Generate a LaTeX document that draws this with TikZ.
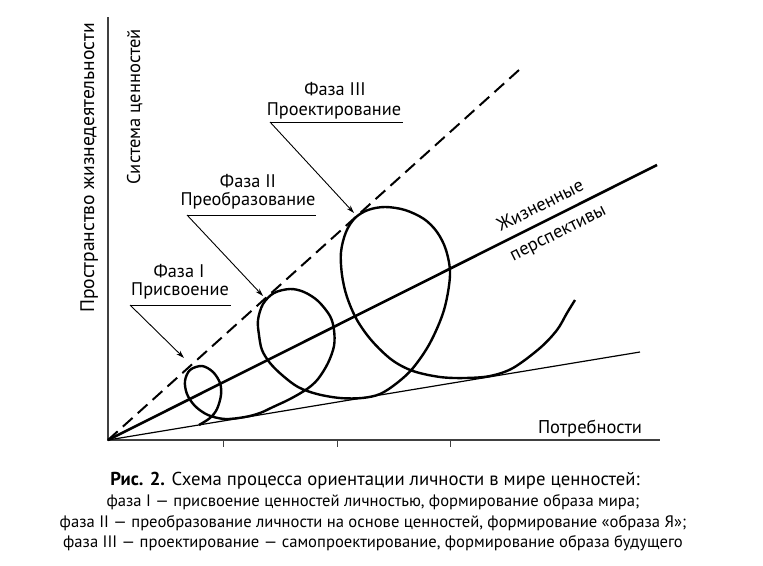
\documentclass[tikz,border=0pt]{standalone}
\usepackage{fontspec}
\setmainfont{PT Sans}
\usetikzlibrary{arrows.meta}

\begin{document}
\begin{tikzpicture}[x=1pt, y=-1pt,
    axis/.style={line width=1.3pt, black!75},
    tick/.style={line width=1pt, black!75},
    pointer/.style={line width=0.9pt, -{Stealth[length=8pt, width=5pt]}},
    underline/.style={line width=0.9pt},
    lbl/.style={font=\fontsize{18.3}{20}\selectfont, inner sep=0pt},
    axlbl/.style={font=\fontsize{18.5}{20}\selectfont, inner sep=0pt},
    capline/.style={font=\fontsize{16.6}{18}\selectfont, inner sep=0pt, anchor=base},
]
    \useasboundingbox (0,0) rectangle (763,565);

    % Axes
    \coordinate (O) at (108,440);
    \coordinate (ytop) at (108,17);
    \coordinate (xend) at (660,440);
    \draw[axis] (ytop) -- (O) -- (xend);
    \foreach \tx in {223,337,450}
      \draw[tick] (\tx,440) -- (\tx,447);

    % Axis labels
    \node[axlbl, font=\fontsize{19.6}{20}\selectfont, rotate=90, anchor=base] (space) at (94,168) {Пространство жизнедеятельности};
    \node[axlbl, rotate=90, anchor=base] (values) at (140,107) {Система ценностей};
    \node[axlbl, anchor=base] (needs) at (590,433) {Потребности};

    % Upper bound (dashed), life line (thick), lower bound (thin)
    \coordinate (dashend) at (519,70);
    \coordinate (lifeend) at (657,165);
    \coordinate (lowend) at (640,352);
    \draw[line width=2pt, dash pattern=on 13pt off 7pt] (O) -- (dashend);
    \draw[line width=2.6pt] (O) -- (lifeend);
    \draw[line width=1.2pt] (O) -- (lowend);

    \node[axlbl, rotate=26.6] (lifeA) at (540,205) {Жизненные};
    \node[axlbl, rotate=26.6] (lifeB) at (559,235) {перспективы};

    % Spiral of the three phases
    \draw[line width=2.4pt, line join=round]
      plot[smooth, tension=0.55] coordinates{
        (199,425) (210,418) (217,409) (221,395) (220,383) (213,372)
        (202,366) (190,370) (185,381) (187,394) (195,406) (208,415)
        (225,419) (245,417) (260,413) (273,407) (290,399) (307,389)
        (318,379) (328,363) (334,346) (334,330) (330,316) (318,301)
        (304,292) (290,289) (274,293) (263,304) (258,320) (259,335)
        (262,350) (270,363) (282,375) (298,387) (317,394) (340,398)
        (362,398) (380,394) (397,383) (413,368) (430,343) (444,310)
        (450,275) (446,250) (437,232) (424,219) (405,210) (385,207)
        (368,210) (355,218) (346,232) (341,252) (342,275) (347,297)
        (357,320) (372,341) (392,360) (413,371) (440,377) (465,378)
        (490,376) (513,368) (540,348) (557,330) (567,313) (575,300)
      };

    % Phase labels with pointers
    \node[lbl, anchor=base] (ph3a) at (335,95) {Фаза III};
    \node[lbl, anchor=base] (ph3b) at (334,115) {Проектирование};
    \coordinate (u3l) at (270,122);
    \coordinate (u3r) at (403,122);
    \coordinate (t3) at (354,213);
    \draw[underline] (u3l) -- (u3r);
    \draw[pointer] (u3l) -- (t3);

    \node[lbl, anchor=base] (ph2a) at (248,187) {Фаза II};
    \node[lbl, anchor=base] (ph2b) at (248,205) {Преобразование};
    \coordinate (u2l) at (187,215);
    \coordinate (u2r) at (316,215);
    \coordinate (t2) at (263,296);
    \draw[underline] (u2l) -- (u2r);
    \draw[pointer] (u2l) -- (t2);

    \node[lbl, anchor=base] (ph1a) at (179,277) {Фаза I};
    \node[lbl, anchor=base] (ph1b) at (180,295) {Присвоение};
    \coordinate (u1l) at (130,305);
    \coordinate (u1r) at (231,305);
    \coordinate (t1) at (184,358);
    \draw[underline] (u1l) -- (u1r);
    \draw[pointer] (u1l) -- (t1);

    % Caption
    \node[capline, font=\fontsize{18.7}{20}\selectfont] (cap1) at (375,485)
      {\textbf{Рис. 2.} Схема процесса ориентации личности в мире ценностей:};
    \node[capline] (cap2) at (373,506)
      {фаза I — присвоение ценностей личностью, формирование образа мира;};
    \node[capline] (cap3) at (373,527)
      {фаза II — преобразование личности на основе ценностей, формирование «образа Я»;};
    \node[capline] (cap4) at (373,547)
      {фаза III — проектирование — самопроектирование, формирование образа будущего};
\end{tikzpicture}
\end{document}
